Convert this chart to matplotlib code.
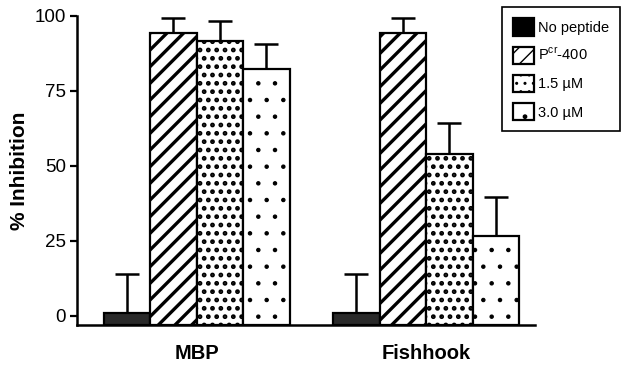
import matplotlib
import matplotlib.pyplot as plt
import matplotlib.patches as mpatches
import numpy as np

matplotlib.use('agg')
plt.rcParams['font.family'] = ['Liberation Sans', 'DejaVu Sans']
plt.rcParams['mathtext.fontset'] = 'custom'
plt.rcParams['mathtext.rm'] = 'Liberation Sans'

groups = ['MBP', 'Fishhook']
series = ['No peptide', 'P$^{\\mathrm{cr}}$-400', '1.5 \u00b5M', '3.0 \u00b5M']
values = np.array([[1.0, 94.1, 91.7, 82.3],
                   [1.0, 94.1, 53.8, 26.6]])
errors = np.array([[13.0, 5.0, 6.6, 8.2],
                   [13.0, 5.0, 10.3, 12.9]])

fills = ['#2a2a2a', 'white', 'white', 'white']
hatches = [None, '//', '..', '.']
hatch_lw = [1.0, 2.4, 2.2, 0.8]
ymin = -3


def set_hlw(patch, lw):
    if hasattr(patch, 'set_hatch_linewidth'):
        patch.set_hatch_linewidth(lw)


fig = plt.figure(figsize=(6.24, 3.65), dpi=100)
ax = fig.add_axes([0.1234, 0.1096, 0.734, 0.8474])

centers = np.array([0, 4.94])
offsets = np.array([-1.5, -0.5, 0.5, 1.5])
for j in range(len(series)):
    x = centers + offsets[j]
    with plt.rc_context({'hatch.linewidth': hatch_lw[j]}):
        bars = ax.bar(x, values[:, j] - ymin, bottom=ymin, width=1.0, color=fills[j],
                      edgecolor='black', linewidth=1.6, hatch=hatches[j], zorder=2)
    for b in bars:
        set_hlw(b, hatch_lw[j])
    ax.errorbar(x, values[:, j], yerr=[np.zeros(2), errors[:, j]], fmt='none',
                ecolor='black', elinewidth=1.8, capsize=8.3, capthick=1.8, zorder=1)

ax.set_xlim(-2.57, 7.28)
ax.set_ylim(ymin, 100)
ax.set_yticks([0, 25, 50, 75, 100])
ax.set_xticks(centers)
ax.set_xticklabels(groups, fontweight='bold', fontsize=14.5)
ax.tick_params(axis='x', length=0, pad=14)
ax.tick_params(axis='y', length=5, width=1.6, labelsize=13.5, pad=3)
for s in ['top', 'right']:
    ax.spines[s].set_visible(False)
for s in ['left', 'bottom']:
    ax.spines[s].set_linewidth(1.8)
ax.spines['left'].set_bounds(ymin, 100)
ax.set_ylabel('% Inhibition', fontweight='bold', fontsize=15, labelpad=4)

handles = []
for j in range(len(series)):
    with plt.rc_context({'hatch.linewidth': hatch_lw[j]}):
        p = mpatches.Patch(facecolor='black' if j == 0 else 'white', edgecolor='black',
                           linewidth=1.6, hatch=hatches[j], label=series[j])
    set_hlw(p, hatch_lw[j])
    handles.append(p)
leg = fig.legend(handles=handles, loc='upper right', bbox_to_anchor=(0.994, 0.98),
                 fancybox=False, framealpha=1, edgecolor='black', fontsize=10.5,
                 handlelength=1.45, handleheight=1.45, labelspacing=0.75,
                 borderpad=0.75, handletextpad=0.3, borderaxespad=0)
leg.get_frame().set_linewidth(1.2)

plt.savefig('out.png')
